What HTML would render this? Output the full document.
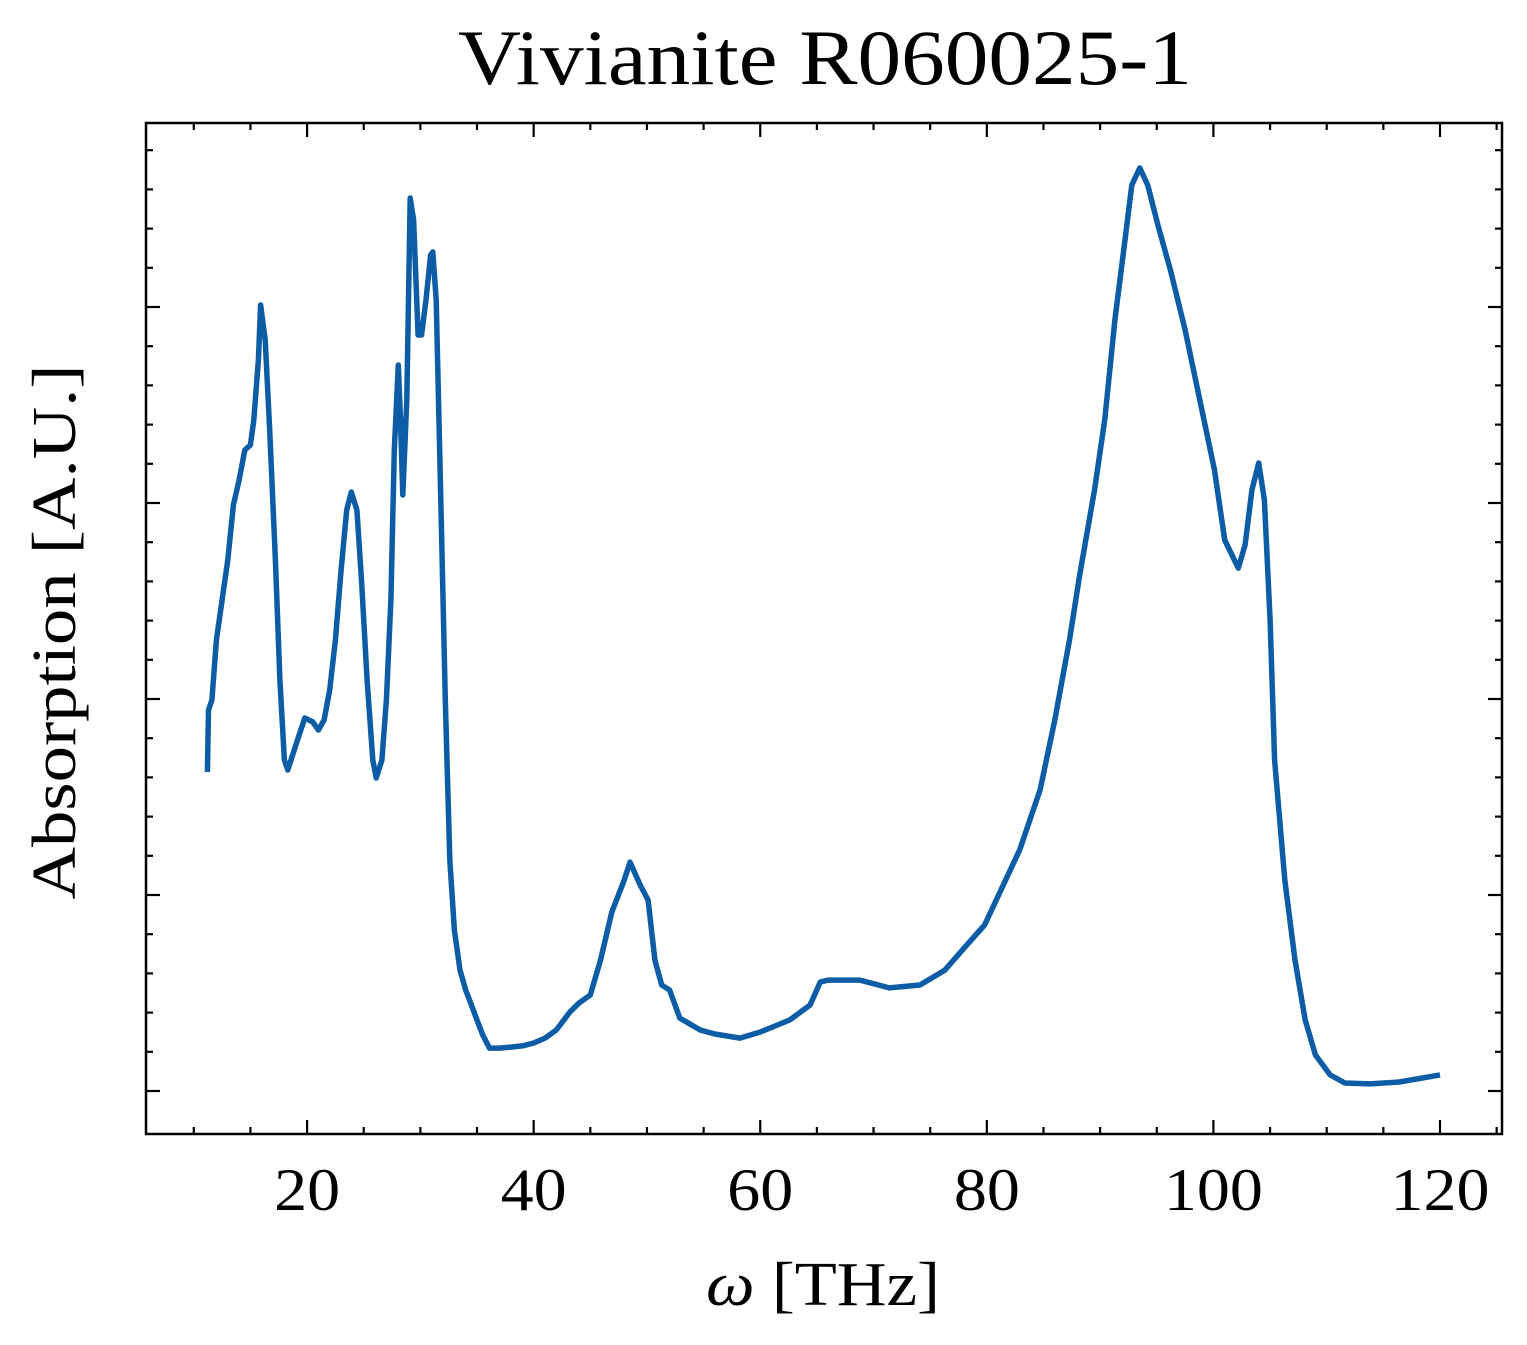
<!DOCTYPE html>
<html><head><meta charset="utf-8"><style>
html,body{margin:0;padding:0;background:#fff;}
svg{display:block;}
text{font-family:"Liberation Serif","DejaVu Serif",serif;fill:#000;}
</style></head><body>
<svg id="chart" width="1527" height="1345" viewBox="0 0 1527 1345" xmlns="http://www.w3.org/2000/svg">
<text x="825" y="84" font-size="78" text-anchor="middle" textLength="734" lengthAdjust="spacingAndGlyphs">Vivianite R060025-1</text>
<text x="823" y="1305" font-size="62" text-anchor="middle" textLength="234" lengthAdjust="spacingAndGlyphs"><tspan font-style="italic">ω</tspan> [THz]</text>
<text transform="translate(75,632) rotate(-90)" font-size="62" text-anchor="middle" textLength="535" lengthAdjust="spacingAndGlyphs">Absorption [A.U.]</text>
<g id="ticks"></g>
<g id="series"></g>
<rect x="146" y="123" width="1356" height="1011" fill="none" stroke="#000" stroke-width="2.5"/>
</svg>
<script>
const xTickLabels=[20,40,60,80,100,120];
const yTickValues=[0,100,200,300,400];
const xs=[11.2,11.3,11.6,12,12.5,13,13.5,14,14.5,15,15.3,15.7,15.9,16.3,16.7,17.2,17.6,18,18.3,19,19.8,20.5,21,21.5,22,22.5,23,23.5,23.9,24.4,24.8,25.3,25.8,26.1,26.6,27,27.4,27.7,28.05,28.25,28.45,28.8,29.1,29.4,29.8,30.1,30.5,30.9,31.1,31.4,31.8,32.2,32.6,33,33.5,34,34.5,35,35.5,36.1,37,38,39,40,41,42,43.2,44,45,45.9,46.9,48,48.5,49.4,50.1,50.7,51.3,52,52.9,54.7,56,58.2,60,62.6,64.4,65.3,66,68.8,71.4,74.1,76.3,78,79.8,82.9,84.7,86,87.3,88.2,89.5,90.4,91.3,92.2,92.8,93.5,94.2,95.1,96.2,97.5,98.8,100.1,101,102.2,102.8,103.4,104,104.5,105,105.4,106.3,107.2,108.1,109,110.3,111.6,113.8,116.4,120];
const ys=[162.8,194.4,199.5,230.1,250.5,270.9,299.0,311.7,327.0,329.6,342.3,373.0,401.0,383.2,337.2,270.9,209.7,168.9,163.8,176.5,190.3,188.3,184.2,189.3,204.6,230.1,265.8,296.4,305.6,296.4,260.7,209.7,168.9,159.7,168.9,199.5,250.5,327.0,370.4,342.3,304.1,352.6,455.6,444.4,385.7,385.7,403.6,426.5,428.1,403.6,301.5,199.5,117.9,82.1,61.7,51.5,43.9,36.2,28.6,21.9,21.9,22.4,23.0,24.5,27.0,31.1,40.3,44.9,49.0,66.8,91.3,107.7,116.8,105.1,97.4,66.8,54.1,51.5,37.2,31.1,29.1,27.0,30.1,36.2,43.9,55.6,56.6,56.6,52.6,54.1,61.7,73.0,84.7,123.0,153.6,189.3,230.1,263.3,306.6,342.3,393.4,434.2,462.2,470.9,462.2,441.8,418.9,388.3,352.6,316.8,281.1,266.8,278.6,306.6,320.4,301.5,240.3,168.9,107.7,66.8,36.2,18.4,8.2,4.1,3.6,4.6,8.2];
const NS="http://www.w3.org/2000/svg";
const X0=146,X1=1502,Y0=123,Y1=1134;
function sx(v){return 80.5+v*(1440-80.5)/120;}
function sy(v){return 1091-v*1.96;}
const tg=document.getElementById('ticks');
function line(x1,y1,x2,y2){const l=document.createElementNS(NS,'line');l.setAttribute('x1',x1);l.setAttribute('y1',y1);l.setAttribute('x2',x2);l.setAttribute('y2',y2);l.setAttribute('stroke','#000');l.setAttribute('stroke-width','2.2');tg.appendChild(l);return l;}
for(let v=10;v<=125;v+=5){const p=sx(v);if(p<X0+3||p>X1-3)continue;const major=v%20===0;const L=major?14:7;
const a=line(p,Y1,p,Y1-L);
const b=line(p,Y0,p,Y0+L);}
xTickLabels.forEach(v=>{const t=document.createElementNS(NS,'text');t.setAttribute('x',sx(v));t.setAttribute('y',1210);t.setAttribute('font-size','60');t.setAttribute('text-anchor','middle');t.setAttribute('textLength',String(v).length*33);t.setAttribute('lengthAdjust','spacingAndGlyphs');t.textContent=v;


tg.appendChild(t);});
for(let v=0;v<=520;v+=20){const p=sy(v);if(p<Y0+3||p>Y1-3)continue;const major=v%100===0;const L=major?14:7;
const a=line(X0,p,X0+L,p);
const b=line(X1,p,X1-L,p);}
const sg=document.getElementById('series');
const path=document.createElementNS(NS,'path');
path.setAttribute('d',xs.map((x,i)=>(i?'L':'M')+sx(x).toFixed(1)+','+sy(ys[i]).toFixed(1)).join(''));
path.setAttribute('fill','none');path.setAttribute('stroke','#0c5da5');path.setAttribute('stroke-width','5.5');path.setAttribute('stroke-linejoin','round');


sg.appendChild(path);
</script>
</body></html>
